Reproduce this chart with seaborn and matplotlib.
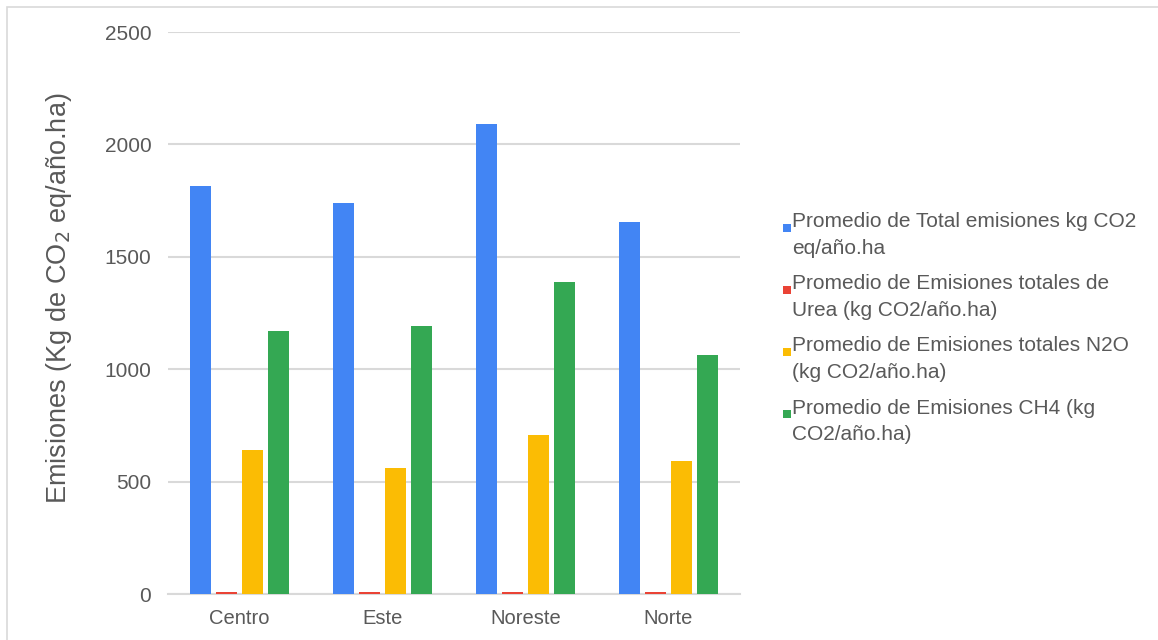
import matplotlib
matplotlib.use("Agg")
import matplotlib.pyplot as plt
from matplotlib.patches import Patch, Rectangle
from matplotlib.legend_handler import HandlerBase
import seaborn as sns
import pandas as pd

# Regions and series
regions = ["Centro", "Este", "Noreste", "Norte"]
series = [
    "Promedio de Total emisiones kg CO2 eq/año.ha",
    "Promedio de Emisiones totales de Urea (kg CO2/año.ha)",
    "Promedio de Emisiones totales N2O (kg CO2/año.ha)",
    "Promedio de Emisiones CH4 (kg CO2/año.ha)",
]
legend_labels = [
    "Promedio de Total emisiones kg CO2\neq/año.ha",
    "Promedio de Emisiones totales de\nUrea (kg CO2/año.ha)",
    "Promedio de Emisiones totales N2O\n(kg CO2/año.ha)",
    "Promedio de Emisiones CH4 (kg\nCO2/año.ha)",
]
total = [1816, 1741, 2090, 1655]
urea = [11, 11, 11, 11]
n2o = [642, 560, 708, 593]
ch4 = [1172, 1193, 1386, 1065]
colors = ["#4285F4", "#EA4335", "#FBBC04", "#34A853"]

rows = []
for vals, s in zip([total, urea, n2o, ch4], series):
    for r, v in zip(regions, vals):
        rows.append({"Región": r, "Serie": s, "Valor": v})
df = pd.DataFrame(rows)

sns.set_theme(style="white")
plt.rcParams["font.family"] = ["Liberation Sans", "DejaVu Sans"]
text_color = "#595959"
grid_color = "#d9d9d9"


class FirstLineSquare(HandlerBase):
    """Small square key aligned with the first line of a two-line label."""

    def __init__(self, size=5.8, lift=6.5, **kw):
        super().__init__(**kw)
        self.size = size
        self.lift = lift

    def create_artists(self, legend, orig_handle, xdescent, ydescent,
                       width, height, fontsize, trans):
        x = -xdescent + width - self.size
        y = -ydescent + self.lift
        sq = Rectangle((x, y), self.size, self.size,
                       facecolor=orig_handle.get_facecolor(),
                       edgecolor="none", transform=trans)
        return [sq]


fig = plt.figure(figsize=(11.58, 6.4), dpi=100)
ax = fig.add_axes([168 / 1158, 1 - 594 / 640, 572 / 1158, (594 - 32) / 640])

sns.barplot(data=df, x="Región", y="Valor", hue="Serie", order=regions,
            hue_order=series, palette=colors, saturation=1, width=0.73,
            gap=0.19, linewidth=0, legend=False, ax=ax)
for bar in ax.patches:
    bar.set_zorder(3)

ax.set_ylim(0, 2500)
ax.set_xlim(-0.5, 3.5)
ax.set_yticks([0, 500, 1000, 1500, 2000, 2500])
ax.yaxis.grid(True, color=grid_color, linewidth=1.5)
ax.set_axisbelow(True)
for side in ["top", "right", "left"]:
    ax.spines[side].set_visible(False)
ax.spines["bottom"].set_color(grid_color)
ax.spines["bottom"].set_linewidth(1.5)
ax.spines["bottom"].set_zorder(1)
ax.tick_params(axis="y", length=0, pad=12, labelsize=15, labelcolor=text_color)
ax.tick_params(axis="x", length=0, pad=11, labelsize=14.5, labelcolor=text_color)
ax.set_xlabel("")
ax.set_ylabel("Emisiones (Kg de CO$_2$ eq/año.ha)", fontsize=19.5, color=text_color)
ax.yaxis.set_label_coords(-0.165, 0.527)

handles = [Patch(facecolor=c, edgecolor="none") for c in colors]
leg = fig.legend(handles, legend_labels, loc="upper left",
                 bbox_to_anchor=(782 / 1158, 1 - 212 / 640), frameon=False,
                 fontsize=15, labelcolor=text_color, handlelength=0.45,
                 handleheight=0.5, handletextpad=0.05, labelspacing=0.8,
                 borderaxespad=0, borderpad=0,
                 handler_map={Patch: FirstLineSquare()})
for t in leg.get_texts():
    t.set_linespacing(1.5)

# Chart area border
fig.patches.append(Rectangle((7 / 1158, -0.1), 1.2, 1 - 7 / 640 + 0.1,
                             transform=fig.transFigure, fill=False,
                             edgecolor=grid_color, linewidth=1.2))

fig.savefig("out.png", dpi=100, facecolor="white")
